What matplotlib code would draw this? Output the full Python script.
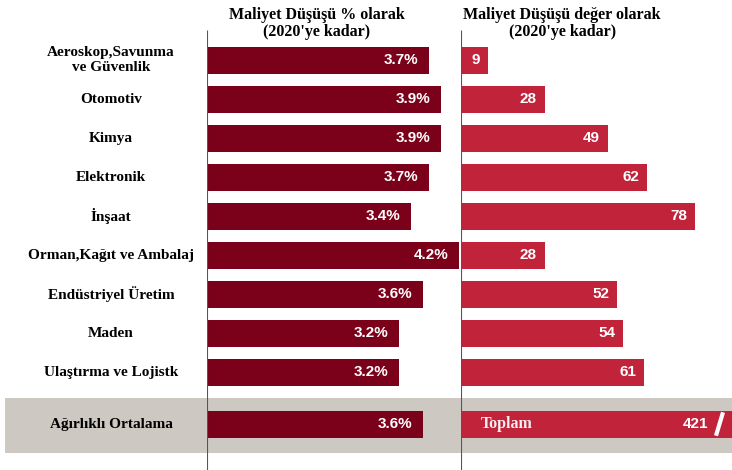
import matplotlib.pyplot as plt
from matplotlib import transforms

sectors = ["Aeroskop,Savunma\nve Güvenlik", "Otomotiv", "Kimya", "Elektronik", "İnşaat",
           "Orman,Kağıt ve Ambalaj", "Endüstriyel Üretim", "Maden", "Ulaştırma ve Lojistk"]
pct_drop = [3.7, 3.9, 3.9, 3.7, 3.4, 4.2, 3.6, 3.2, 3.2]
value_drop = [9, 28, 49, 62, 78, 28, 52, 54, 61]
avg_label = "Ağırlıklı Ortalama"
avg_pct = 3.6
total_label = "Toplam"
total_value = 421

dark_red = "#7b0019"
light_red = "#c0233a"
band_grey = "#cdc8c2"
serif = ["Liberation Serif", "DejaVu Serif"]
sans = ["Liberation Sans", "DejaVu Sans"]

W, H = 732, 470
row_px = 39.0
top_px = 60.0
ylim = (-(top_px) / row_px, (H - top_px) / row_px)

fig = plt.figure(figsize=(W / 100, H / 100), dpi=100)

def px_axes(x0, x1):
    ax = fig.add_axes([x0 / W, 0, (x1 - x0) / W, 1])
    ax.set_ylim(ylim[1], ylim[0])
    ax.axis("off")
    return ax

ypos = list(range(len(sectors)))
avg_y = (424 - top_px) / row_px
bar_h = 27 / row_px

# grey band behind the summary row
bg = px_axes(0, W)
bg.set_xlim(0, W)
bg.axhspan((398 - top_px) / row_px, (453 - top_px) / row_px, xmin=5 / W, xmax=1,
           color=band_grey, lw=0)

# sector names
for y, name in zip(ypos, sectors):
    bg.text(111, y, name, ha="center", va="center", fontsize=11, fontweight="bold",
            family=serif, linespacing=1.15)
bg.text(111, avg_y, avg_label, ha="center", va="center", fontsize=11,
        fontweight="bold", family=serif)

line_top = (30 - top_px) / row_px

# left panel: percentage drop
axl = px_axes(207, 461)
axl.set_xlim(0, (461 - 207) / 60)
axl.barh(ypos + [avg_y], pct_drop + [avg_pct], height=bar_h, color=dark_red)
axl.vlines(0, line_top, ylim[1], color="#555555", lw=0.8)
off_l = transforms.offset_copy(axl.transData, fig=fig, x=-11, y=0, units="dots")
for y, v in zip(ypos + [avg_y], pct_drop + [avg_pct]):
    axl.text(v, y, f"{v:.1f}%", transform=off_l, ha="right", va="center",
             color="white", fontsize=11, fontweight="bold", family=sans)
axl.text(0.433, 0.985, "Maliyet Düşüşü % olarak\n(2020'ye kadar)", transform=axl.transAxes,
         ha="center", va="top", fontsize=11.5, fontweight="bold", family=serif,
         linespacing=1.1)

# right panel: value drop
axr = px_axes(461, W)
axr.set_xlim(0, (W - 461) / 3)
axr.barh(ypos, value_drop, height=bar_h, color=light_red)
axr.barh([avg_y], [total_value], height=bar_h, color=light_red)
axr.vlines(0, line_top, ylim[1], color="#555555", lw=0.8)
off_r = transforms.offset_copy(axr.transData, fig=fig, x=-8, y=0, units="dots")
for y, v in zip(ypos, value_drop):
    axr.text(v, y, f"{v}", transform=off_r, ha="right", va="center",
             color="white", fontsize=11, fontweight="bold", family=sans)
xtr = transforms.blended_transform_factory(axr.transAxes, axr.transData)
axr.text(20 / 271, avg_y, total_label, transform=xtr, ha="left", va="center",
         color="#f4eeee", fontsize=11.5, fontweight="bold", family=serif)
axr.text(247 / 271, avg_y, f"{total_value}", transform=xtr, ha="right", va="center",
         color="white", fontsize=11, fontweight="bold", family=sans)
# break mark on the truncated total bar
axr.plot([255 / 271, 262 / 271], [avg_y + 0.3, avg_y - 0.3], transform=xtr,
         color="white", lw=3, solid_capstyle="butt")
axr.text(0.373, 0.985, "Maliyet Düşüşü değer olarak\n(2020'ye kadar)", transform=axr.transAxes,
         ha="center", va="top", fontsize=11.5, fontweight="bold", family=serif,
         linespacing=1.1)

fig.savefig("out.png", dpi=100)
